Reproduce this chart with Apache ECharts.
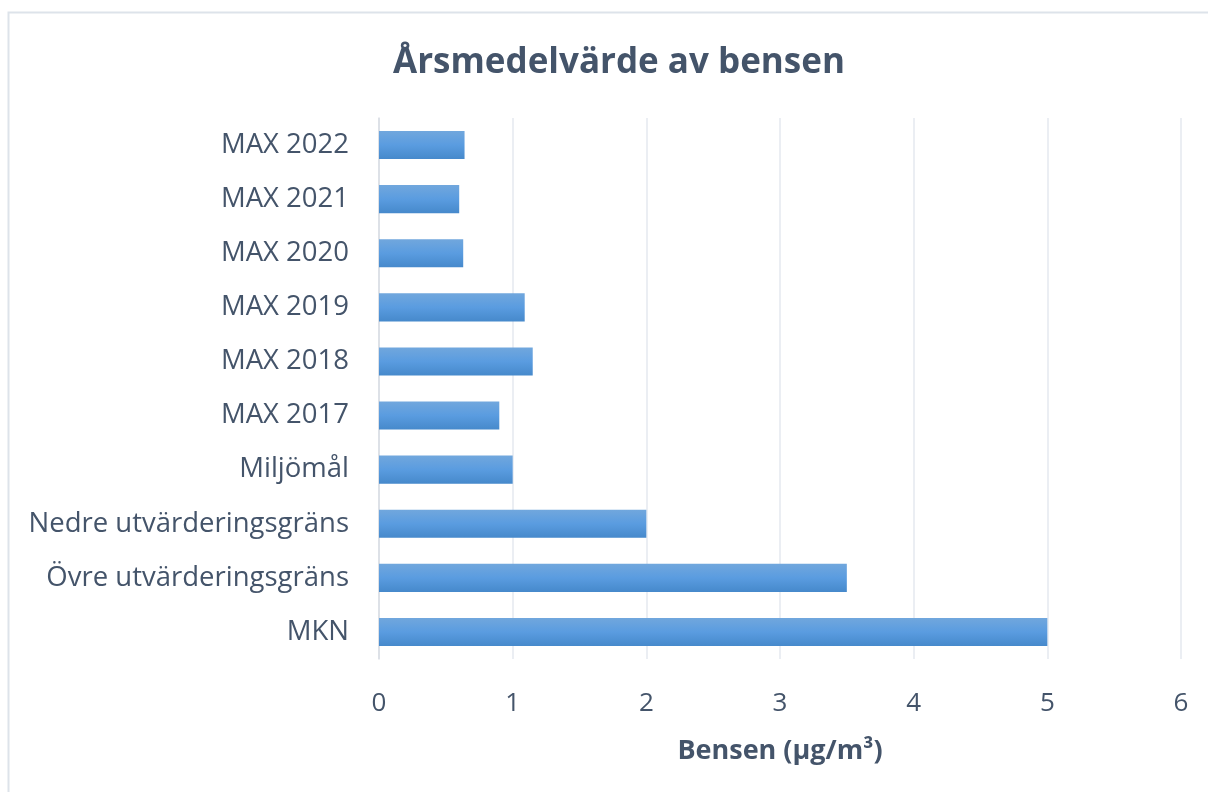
<!DOCTYPE html>
<html>
<head>
<meta charset="utf-8">
<script src="https://cdn.jsdelivr.net/npm/echarts@6/dist/echarts.min.js"></script>
<style>
  html, body { margin: 0; padding: 0; background: #fff; }
  #ch { width: 1208px; height: 792px; }
</style>
</head>
<body>
<div id="ch"></div>
<script>
var categories = ['MKN', 'Övre utvärderingsgräns', 'Nedre utvärderingsgräns', 'Miljömål',
                  'MAX 2017', 'MAX 2018', 'MAX 2019', 'MAX 2020', 'MAX 2021', 'MAX 2022'];
var values = [5, 3.5, 2, 1, 0.9, 1.15, 1.09, 0.63, 0.6, 0.64];
var xTicks = [0, 1, 2, 3, 4, 5, 6];

var chart = echarts.init(document.getElementById('ch'));
var textColor = '#44546a';
var option = {
    backgroundColor: '#fff',
    graphic: [{
        type: 'rect',
        shape: { x: 8.5, y: 12.5, width: 1220, height: 800 },
        style: { fill: 'none', stroke: '#dde3ea', lineWidth: 2 },
        silent: true
    }],
    title: {
        text: 'Årsmedelvärde av bensen',
        left: 388,
        top: 41,
        textStyle: {
            fontFamily: 'Open Sans',
            fontWeight: 'bold',
            fontSize: 35,
            color: textColor
        }
    },
    grid: {
        left: 379,
        right: 27,
        top: 118,
        bottom: 133
    },
    xAxis: {
        type: 'value',
        min: xTicks[0],
        max: xTicks[xTicks.length - 1],
        interval: 1,
        name: 'Bensen (µg/m³)',
        nameLocation: 'middle',
        nameGap: 79,
        nameTextStyle: {
            fontFamily: 'Open Sans',
            fontWeight: 'bold',
            fontSize: 27,
            color: textColor
        },
        axisLine: { show: false },
        axisTick: { show: false },
        axisLabel: {
            margin: 32,
            fontFamily: 'Open Sans',
            fontSize: 26,
            color: textColor
        },
        splitLine: { lineStyle: { color: '#e4e9ef', width: 1.5 } }
    },
    yAxis: {
        type: 'category',
        data: categories,
        axisLine: { lineStyle: { color: '#d9dde3', width: 1.5 } },
        axisTick: { show: false },
        axisLabel: {
            margin: 30,
            fontFamily: 'Open Sans',
            fontSize: 27.5,
            color: textColor
        }
    },
    series: [{
        type: 'bar',
        data: values,
        barCategoryGap: '48%',
        itemStyle: {
            color: new echarts.graphic.LinearGradient(0, 0, 0, 1, [
                { offset: 0, color: '#71a7dd' },
                { offset: 0.5, color: '#5a9ce0' },
                { offset: 1, color: '#4689cb' }
            ])
        }
    }]
};
chart.setOption(option);
</script>
</body>
</html>
